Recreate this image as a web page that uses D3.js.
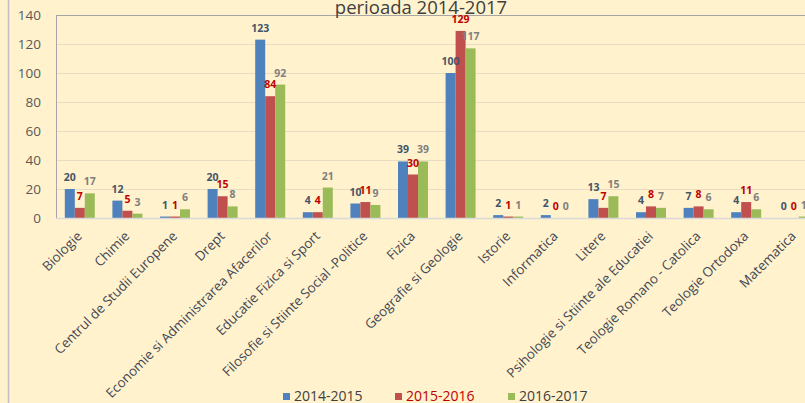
<!DOCTYPE html>
<html>
<head>
<meta charset="utf-8">
<script src="https://cdn.jsdelivr.net/npm/d3@7"></script>
<style>
  html, body { margin: 0; padding: 0; background: #FFF2CC; }
  svg { display: block; }
</style>
</head>
<body>
<svg id="chart" width="805" height="403"></svg>
<script>
const categories = [
  "Biologie", "Chimie", "Centrul de Studii Europene", "Drept",
  "Economie si Administrarea Afacerilor", "Educatie Fizica si Sport",
  "Filosofie si Stiinte  Social -Politice", "Fizica", "Geografie si Geologie",
  "Istorie", "Informatica", "Litere", "Psihologie si Stiinte ale Educatiei",
  "Teologie Romano - Catolica", "Teologie Ortodoxa", "Matematica"
];
const seriesNames = ["2014-2015", "2015-2016", "2016-2017"];
const values2014 = [20, 12, 1, 20, 123, 4, 10, 39, 100, 2, 2, 13, 4, 7, 4, 0];
const values2015 = [7, 5, 1, 15, 84, 4, 11, 30, 129, 1, 0, 7, 8, 8, 11, 0];
const values2016 = [17, 3, 6, 8, 92, 21, 9, 39, 117, 1, 0, 15, 7, 6, 6, 1];
const yTicks = [0, 20, 40, 60, 80, 100, 120, 140];
const titleText = "perioada 2014-2017";

const seriesValues = [values2014, values2015, values2016];
const barColors = ["#4F81BD", "#C0504D", "#9BBB59"];
const labelColors = ["#44546A", "#C00000", "#7F7F7F"];
const legendTextColors = ["#404040", "#C00000", "#404040"];

const svg = d3.select("#chart");
const W = 805, H = 403;
const plotLeft = 56, plotTop = 15, plotBottom = 218;
const step = 47.6;

svg.append("rect").attr("x", 0).attr("y", 0).attr("width", W).attr("height", H).attr("fill", "#FFF2CC");
// outer chart border (left edge)
svg.append("line").attr("x1", 8.5).attr("x2", 8.5).attr("y1", 0).attr("y2", H)
  .attr("stroke", "#BFBFBF").attr("stroke-width", 1.5);

const x = d3.scaleBand().domain(categories)
  .range([plotLeft, plotLeft + step * categories.length])
  .paddingInner(0).paddingOuter(0);
const xs = d3.scaleBand().domain(seriesNames).range([0, x.bandwidth()])
  .paddingInner(0).paddingOuter(0.88);
const y = d3.scaleLinear().domain([0, 140]).range([plotBottom, plotTop]);

// gridlines
svg.append("g").selectAll("line").data(yTicks.filter(t => t > 0)).join("line")
  .attr("x1", plotLeft).attr("x2", W)
  .attr("y1", d => Math.round(y(d)) + 0.5).attr("y2", d => Math.round(y(d)) + 0.5)
  .attr("stroke", d => d === 140 ? "#A6A6A6" : "#E6DDC3").attr("stroke-width", 1);

// y axis
const yAxis = svg.append("g").attr("transform", `translate(${plotLeft},0)`)
  .call(d3.axisLeft(y).tickValues(yTicks).tickSize(0).tickPadding(15));
yAxis.select(".domain").remove();
yAxis.selectAll("text").attr("fill", "#595959")
  .style("font-family", "'Open Sans', sans-serif").style("font-size", "13.5px");

// bars
const groups = svg.append("g").selectAll("g").data(categories).join("g")
  .attr("transform", d => `translate(${x(d)},0)`);
groups.selectAll("rect").data((d, i) => seriesNames.map((s, k) => ({ s, k, v: seriesValues[k][i] })))
  .join("rect")
  .attr("x", d => xs(d.s)).attr("width", xs.bandwidth())
  .attr("y", d => y(d.v)).attr("height", d => y(0) - y(d.v))
  .attr("fill", d => barColors[d.k]);

// data labels
groups.selectAll("text").data((d, i) => seriesNames.map((s, k) => ({ s, k, v: seriesValues[k][i] })))
  .join("text")
  .attr("x", d => xs(d.s) + xs.bandwidth() / 2)
  .attr("y", d => y(d.v) - 8)
  .attr("text-anchor", "middle")
  .attr("fill", d => labelColors[d.k])
  .style("font-family", "'Open Sans', sans-serif")
  .style("font-size", "10.5px").style("font-weight", "bold")
  .text(d => d.v);

// plot border: left and bottom axis lines
svg.append("line").attr("x1", plotLeft + 0.5).attr("x2", plotLeft + 0.5)
  .attr("y1", plotTop).attr("y2", plotBottom).attr("stroke", "#A6A6A6");
const xAxis = svg.append("g").attr("transform", `translate(0,${plotBottom})`)
  .call(d3.axisBottom(x).tickSize(0));
xAxis.select(".domain").attr("stroke", "#D9D9D9").attr("stroke-width", 1.5)
  .attr("d", `M${plotLeft},0.5H${W}`);
xAxis.selectAll("text")
  .attr("x", 0).attr("y", 0).attr("dy", 0)
  .attr("transform", "translate(3,19) rotate(-45)")
  .attr("text-anchor", "end")
  .attr("fill", "#3F4654")
  .style("font-family", "'Open Sans', sans-serif").style("font-size", "13.3px");

// title
svg.append("text").attr("x", 421).attr("y", 14).attr("text-anchor", "middle")
  .attr("fill", "#404040")
  .style("font-family", "'Open Sans', sans-serif").style("font-size", "18.5px")
  .text(titleText);

// legend
const legendX = [283, 395, 508];
const legend = svg.append("g").selectAll("g").data(seriesNames).join("g")
  .attr("transform", (d, i) => `translate(${legendX[i]},0)`);
legend.append("rect").attr("x", 0).attr("y", 393).attr("width", 7).attr("height", 7)
  .attr("fill", (d, i) => barColors[i]);
legend.append("text").attr("x", 11).attr("y", 401)
  .attr("fill", (d, i) => legendTextColors[i])
  .style("font-family", "'Open Sans', sans-serif").style("font-size", "14px")
  .text(d => d);
</script>
</body>
</html>
